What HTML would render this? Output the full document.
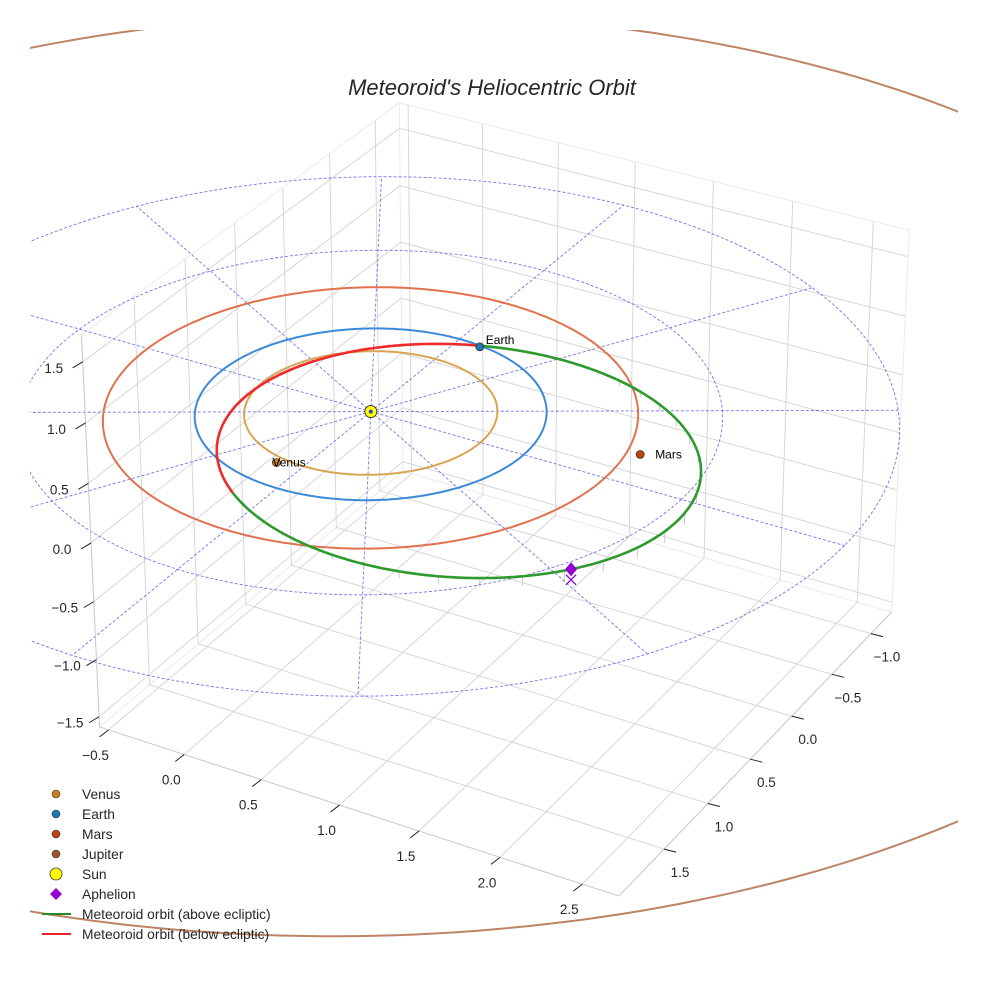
<!DOCTYPE html>
<html><head><meta charset="utf-8"><style>
html,body{margin:0;padding:0;background:#fff;}
svg{display:block;font-family:"Liberation Sans",sans-serif;}
</style></head><body>
<svg id="chart" width="984" height="984" viewBox="0 0 984 984" xmlns="http://www.w3.org/2000/svg">
<defs><clipPath id="axclip"><rect x="30" y="30" width="928" height="930"/></clipPath></defs>
<text x="492" y="95" text-anchor="middle" font-size="22" font-style="italic" fill="#262626">Meteoroid's Heliocentric Orbit</text>
<g id="plot" clip-path="url(#axclip)"></g>
<g id="ticks"></g>
<g id="legend" font-size="13.8" fill="#262626">
<g><circle cx="56" cy="794" r="4" fill="#c57f1c" stroke="#333" stroke-width="0.6"/><text x="82" y="799">Venus</text></g>
<g><circle cx="56" cy="814" r="4" fill="#1f77b4" stroke="#333" stroke-width="0.6"/><text x="82" y="819">Earth</text></g>
<g><circle cx="56" cy="834" r="4" fill="#c1440e" stroke="#333" stroke-width="0.6"/><text x="82" y="839">Mars</text></g>
<g><circle cx="56" cy="854" r="4" fill="#a0522d" stroke="#333" stroke-width="0.6"/><text x="82" y="859">Jupiter</text></g>
<g><circle cx="56" cy="874" r="6" fill="#ffff00" stroke="#333" stroke-width="0.8"/><text x="82" y="879">Sun</text></g>
<g><path d="M56 888 L62 894 L56 900 L50 894 Z" fill="#9400d3"/><text x="82" y="899">Aphelion</text></g>
<g><line x1="42" y1="914" x2="71" y2="914" stroke="#228b22" stroke-width="2"/><text x="82" y="919">Meteoroid orbit (above ecliptic)</text></g>
<g><line x1="42" y1="934" x2="71" y2="934" stroke="#ee2222" stroke-width="2"/><text x="82" y="939">Meteoroid orbit (below ecliptic)</text></g>
</g>
</svg>
<script>
// ---- data ----
const xTicks = [-0.5, 0, 0.5, 1, 1.5, 2, 2.5];
const yTicks = [-1, -0.5, 0, 0.5, 1, 1.5];
const zTicks = [-1.5, -1, -0.5, 0, 0.5, 1, 1.5];
const xTickLabels = ['\u22120.5','0.0','0.5','1.0','1.5','2.0','2.5'];
const yTickLabels = ['\u22121.0','\u22120.5','0.0','0.5','1.0','1.5'];
const zTickLabels = ['\u22121.5','\u22121.0','\u22120.5','0.0','0.5','1.0','1.5'];
const xLim = [-0.56, 2.72];
const yLim = [-1.27, 2.0];
const zLim = [-1.59, 1.72];
const planetNames = ['Venus', 'Earth', 'Mars'];
const planetX = [-0.155, 0.15, 1.565];
const planetY = [0.76, -0.976, -0.327];
const orbitNames = ['Venus', 'Earth', 'Mars', 'Jupiter'];
const orbitRadii = [0.72, 1.0, 1.52, 5.28];
const orbitCenterX = [0, 0, 0, -0.12];
const orbitCenterY = [0, 0, 0, -0.12];
const gridRadii = [1, 2, 3];
const gridAngles = [0, 30, 60, 90, 120, 150, 180, 210, 240, 270, 300, 330];
const meteorPerihelion = [0.72];
const meteorAphelion = [2.2];
const meteorPeriLon = [198];
const meteorNodeLon = [279];
const meteorIncl = [2.5];
const aphelionMarkerLon = [29];

// ---- projection (DLT fit on box corners) ----
const corrW = [
 [xLim[0],yLim[0],zLim[0],402,471],[xLim[1],yLim[0],zLim[0],892,612],
 [xLim[0],yLim[1],zLim[0],100,727],[xLim[1],yLim[1],zLim[0],619,896],
 [xLim[0],yLim[0],zLim[1],400,103],[xLim[1],yLim[0],zLim[1],909,230],
 [xLim[0],yLim[1],zLim[1],81,334],[xLim[1],yLim[1],zLim[1],625,489],
 [0,0,0,371,412],[0,0,0,371,412]
];
function fitP(){
  const A=[],b=[];
  corrW.forEach(c=>{const [X,Y,Z,u,v]=c;
    A.push([X,Y,Z,1,0,0,0,0,-u*X,-u*Y,-u*Z]);b.push(u);
    A.push([0,0,0,0,X,Y,Z,1,-v*X,-v*Y,-v*Z]);b.push(v);});
  const n=11,M=[];
  for(let i=0;i<n;i++){M.push([]);for(let j=0;j<=n;j++){let s=0;for(let k=0;k<A.length;k++)s+=A[k][i]*(j<n?A[k][j]:b[k]);M[i].push(s);}}
  for(let i=0;i<n;i++){let p=i;for(let r=i+1;r<n;r++)if(Math.abs(M[r][i])>Math.abs(M[p][i]))p=r;
    [M[i],M[p]]=[M[p],M[i]];
    for(let r=0;r<n;r++){if(r===i)continue;const f=M[r][i]/M[i][i];for(let c=i;c<=n;c++)M[r][c]-=f*M[i][c];}}
  return M.map((r,i)=>r[n]/r[i]);
}
const PM=fitP();
function P(x,y,z){const w=PM[8]*x+PM[9]*y+PM[10]*z+1;
  return [(PM[0]*x+PM[1]*y+PM[2]*z+PM[3])/w,(PM[4]*x+PM[5]*y+PM[6]*z+PM[7])/w];}

const NS='http://www.w3.org/2000/svg';
const plot=document.getElementById('plot');
const tg=document.getElementById('ticks');
function mk(tag,attrs,parent,name){const el=document.createElementNS(NS,tag);
  for(const k in attrs)el.setAttribute(k,attrs[k]);
  
  
  parent.appendChild(el);return el;}
function seg(p,q,stroke,w,parent,name,dash){const a={x1:p[0],y1:p[1],x2:q[0],y2:q[1],stroke:stroke,'stroke-width':w};
  if(dash)a['stroke-dasharray']=dash;return mk('line',a,parent,name);}
function poly(pts,stroke,w,parent,name,dash){const a={points:pts.map(p=>p[0].toFixed(1)+','+p[1].toFixed(1)).join(' '),fill:'none',stroke:stroke,'stroke-width':w,'stroke-linejoin':'round'};
  if(dash)a['stroke-dasharray']=dash;return mk('polyline',a,parent,name);}

const [x0,x1]=xLim,[y0,y1]=yLim,[z0,z1]=zLim;
const G='#d3d3d3',E='#ebebeb';
[[[x0,y0,z1],[x1,y0,z1]],[[x0,y0,z1],[x0,y1,z1]],[[x1,y0,z0],[x1,y0,z1]],[[x0,y0,z0],[x0,y0,z1]],[[x0,y0,z0],[x1,y0,z0]],[[x0,y0,z0],[x0,y1,z0]],[[x1,y0,z0],[x1,y1,z0]]]
 .forEach(e=>seg(P(...e[0]),P(...e[1]),E,1,plot,'pane-edge'));
xTicks.forEach(x=>{seg(P(x,y0,z0),P(x,y1,z0),G,0.9,plot,'floor-grid-x');seg(P(x,y0,z0),P(x,y0,z1),G,0.9,plot,'wall-grid-x');});
yTicks.forEach(y=>{seg(P(x0,y,z0),P(x1,y,z0),G,0.9,plot,'floor-grid-y');seg(P(x0,y,z0),P(x0,y,z1),G,0.9,plot,'wall-grid-y');});
zTicks.forEach(z=>{seg(P(x0,y1,z),P(x0,y0,z),G,0.9,plot,'wall-grid-z');seg(P(x0,y0,z),P(x1,y0,z),G,0.9,plot,'wall-grid-z');});
seg(P(x0,y1,z0),P(x1,y1,z0),'#c8c8c8',1,tg,'x-axis-line');
seg(P(x1,y0,z0),P(x1,y1,z0),'#c8c8c8',1,tg,'y-axis-line');
seg(P(x0,y1,z0),P(x0,y1,z1),'#c8c8c8',1,tg,'z-axis-line');
function lab(p,txt,name){const t=mk('text',{x:p[0],y:p[1]+4,'text-anchor':'middle','font-size':13.5,fill:'#262626'},tg,name);t.textContent=txt;}
xTicks.forEach((x,i)=>{const p=P(x,y1,z0);seg(p,[p[0]-9,p[1]+7],'#222',1,tg,'x-tick');lab([p[0]-13,p[1]+26],xTickLabels[i],'x-tick-label');});
yTicks.forEach((y,i)=>{const p=P(x1,y,z0);seg(p,[p[0]+12,p[1]+3],'#222',1,tg,'y-tick');lab([p[0]+16,p[1]+24],yTickLabels[i],'y-tick-label');});
zTicks.forEach((z,i)=>{const p=P(x0,y1,z);seg(p,[p[0]-10,p[1]+6],'#222',1,tg,'z-tick');lab([p[0]-29,p[1]+7],zTickLabels[i],'z-tick-label');});

const BL='rgba(70,70,235,0.75)';
gridRadii.forEach(r=>{const pts=[];for(let k=0;k<=360;k+=2){const a=k*Math.PI/180;pts.push(P(r*Math.cos(a),r*Math.sin(a),0));}poly(pts,BL,0.9,plot,'ecliptic-grid-circle','3,2');});
gridAngles.forEach(d=>{const a=d*Math.PI/180,R=gridRadii[gridRadii.length-1];seg(P(0,0,0),P(R*Math.cos(a),R*Math.sin(a),0),BL,0.9,plot,'ecliptic-grid-radial','3,2');});

const orbitColors=['#dba452','#3b8ad9','#e2714e','#bd8465'];
orbitRadii.forEach((r,i)=>{const pts=[];for(let k=0;k<=360;k+=1){const a=k*Math.PI/180;pts.push(P(orbitCenterX[i]+r*Math.cos(a),orbitCenterY[i]+r*Math.sin(a),0));}
  poly(pts,orbitColors[i],2,plot,'orbit-'+orbitNames[i].toLowerCase());});

const q=meteorPerihelion[0],Q=meteorAphelion[0],sma=(q+Q)/2,ecc=(Q-q)/(Q+q),pp=sma*(1-ecc*ecc);
const wP=meteorPeriLon[0]*Math.PI/180,Om=meteorNodeLon[0]*Math.PI/180,inc=meteorIncl[0]*Math.PI/180;
function mpt(l){const r=pp/(1+ecc*Math.cos(l-wP));return [r*Math.cos(l),r*Math.sin(l),r*Math.sin(inc)*Math.sin(l-Om)];}
for(let k=0;k<360;k+=6){const m=mpt(k*Math.PI/180);seg(P(m[0],m[1],m[2]),P(m[0],m[1],0),'#bbbbbb',0.8,plot,'orbit-dropline');}
let run=[],above=null;
for(let k=0;k<=720;k++){const l=k*Math.PI/360,m=mpt(l),ab=m[2]>=0;
  if(above!==null&&ab!==above){run.push(P(...m));poly(run,above?'#2e9a2e':'#ee2a2a',2.6,plot,above?'meteoroid-orbit-above':'meteoroid-orbit-below');run=[];}
  above=ab;run.push(P(...m));}
poly(run,above?'#2e9a2e':'#ee2a2a',2.6,plot,above?'meteoroid-orbit-above':'meteoroid-orbit-below');

const ap=mpt(aphelionMarkerLon[0]*Math.PI/180),apS=P(...ap),apG=P(ap[0],ap[1],0);
mk('path',{d:`M${apG[0]-5} ${apG[1]-5} L${apG[0]+5} ${apG[1]+5} M${apG[0]+5} ${apG[1]-5} L${apG[0]-5} ${apG[1]+5}`,stroke:'#9400d3','stroke-width':1.3},plot,'aphelion-projection');
mk('path',{d:`M${apS[0]} ${apS[1]-7} L${apS[0]+6} ${apS[1]} L${apS[0]} ${apS[1]+7} L${apS[0]-6} ${apS[1]} Z`,fill:'#9400d3'},plot,'aphelion-marker');

const pCol=['#c57f1c','#1f77b4','#c1440e'];
planetNames.forEach((n,i)=>{const p=P(planetX[i],planetY[i],0);
  mk('circle',{cx:p[0],cy:p[1],r:4,fill:pCol[i],stroke:'#222','stroke-width':0.7},plot,'planet-'+n.toLowerCase());
  const dx=n==='Venus'?-4:(n==='Mars'?15:6),dy=n==='Earth'?-3:4;
  const t=mk('text',{x:p[0]+dx,y:p[1]+dy,'font-size':12,fill:'#000'},plot,'planet-label-'+n.toLowerCase());t.textContent=n;});
const s=P(0,0,0);
mk('circle',{cx:s[0],cy:s[1],r:6,fill:'#ffff00',stroke:'#222','stroke-width':0.8},plot,'sun-marker');
mk('circle',{cx:s[0],cy:s[1],r:2,fill:'#3344cc'},plot,'sun-center');
</script>
</body></html>
